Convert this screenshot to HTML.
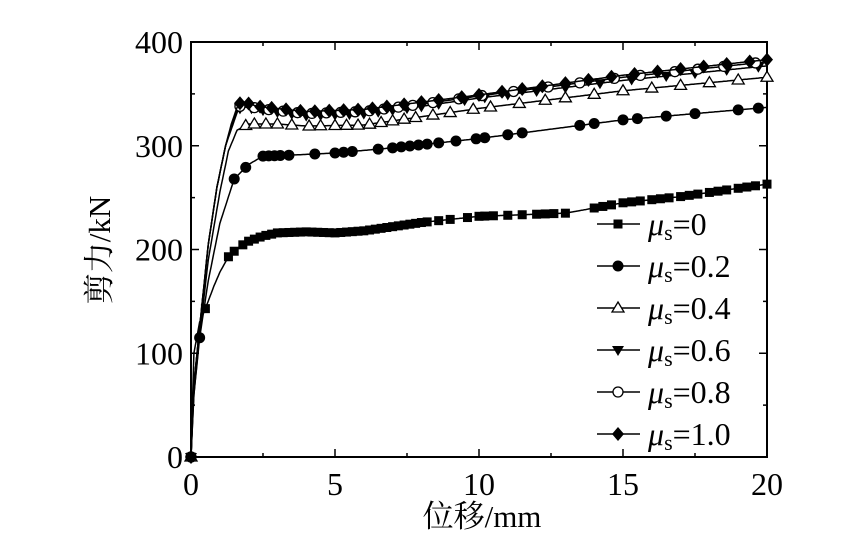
<!DOCTYPE html><html><head><meta charset="utf-8"><style>body{margin:0;background:#fff}svg{display:block}text{font-family:"Liberation Serif","Noto Serif CJK SC",serif;fill:#000}</style></head><body>
<svg id="s" width="866" height="539" xmlns="http://www.w3.org/2000/svg"></svg>
<script>
const s=document.getElementById('s');let h='';
const X=v=>191+v*28.8,Y=v=>457-v*1.0375;
h+='<rect x="191" y="42" width="576" height="415" fill="none" stroke="#000" stroke-width="2"/>';
for(let i=0;i<=8;i++){const v=i*2.5,x=X(v),l=i%2?4:8;h+=`<line x1="${x}" y1="457" x2="${x}" y2="${457-l}" stroke="#000" stroke-width="1.5"/><line x1="${x}" y1="42" x2="${x}" y2="${42+l}" stroke="#000" stroke-width="1.5"/>`;if(i%2==0)h+=`<text x="${x}" y="495" font-size="32" text-anchor="middle">${v}</text>`;}
for(let i=0;i<=8;i++){const v=i*50,y=Y(v),l=i%2?4:8;h+=`<line x1="191" y1="${y}" x2="${191+l}" y2="${y}" stroke="#000" stroke-width="1.5"/><line x1="767" y1="${y}" x2="${767-l}" y2="${y}" stroke="#000" stroke-width="1.5"/>`;if(i%2==0)h+=`<text x="183" y="${y+11}" font-size="32" text-anchor="end">${v}</text>`;}
h+='<text x="482" y="527" font-size="31" text-anchor="middle">位移/mm</text>';
h+='<text transform="translate(110,250) rotate(-90)" font-size="31" text-anchor="middle">剪力/kN</text>';
function interp(p,x){for(let i=1;i<p.length;i++)if(x<=p[i][0]){const a=p[i-1],b=p[i],t=(x-a[0])/(b[0]-a[0]);return a[1]+(b[1]-a[1])*t;}return p[p.length-1][1];}
const up=(pk)=>[[0,0],[0.1,70],[0.3,125],[0.6,205],[0.9,260],[1.2,300],[1.4,pk-22],[1.6,pk-6],[1.75,pk]];
const S=[
{m:'sq',p:[[0,0],[0.1,100],[0.3,130],[0.5,143],[0.8,165],[1,178],[1.3,193],[1.6,201],[2,208],[2.5,213],[3,216],[4,217],[5,216],[6,218],[7,222],[8,226],[10,232],[13,235],[15,245],[17,251],[20,263]],n:[0.5,1.3,1.5,1.8,2,2.2,2.4,2.6,2.8,3,3.2,3.4,3.6,3.8,4,4.2,4.4,4.6,4.8,5,5.2,5.4,5.6,5.8,6,6.2,6.4,6.6,6.8,7,7.2,7.4,7.6,7.8,8,8.2,8.6,9,9.6,10,10.2,10.5,11,11.5,12,12.3,12.6,13,14,14.3,14.6,15,15.3,15.6,16,16.3,16.6,17,17.3,17.6,18,18.3,18.6,19,19.3,19.6,20]},
{m:'ci',p:[[0,0],[0.1,60],[0.3,115],[0.6,170],[1,225],[1.5,268],[2,282],[2.5,290],[3.5,291],[5,293],[7,298],[10,307],[15,325],[20,337]],n:[0.3,1.5,1.9,2.5,2.7,2.9,3.1,3.4,4.3,5,5.3,5.6,6.5,7,7.3,7.6,7.9,8.2,8.6,9.2,9.9,10.2,11,11.5,13.5,14,15,15.5,16.5,17.5,19,19.7]},
{m:'tu',p:[[0,0],[0.1,60],[0.3,118],[0.6,190],[1,255],[1.3,295],[1.6,315],[2,321],[3,321],[4,319],[6,320],[8,328],[10,336],[15,353],[20,366]],n:[1.9,2.2,2.6,3.0,3.5,4.1,4.5,5,5.4,5.8,6.2,6.6,7,7.4,7.8,8.4,9,9.8,10.4,11.4,12.3,13,14,15,16,17,18,19,20]},
{m:'td',p:up(338).concat([[2.3,335],[4,329],[6,331],[8,338],[10,346],[15,363],[20,377]]),n:[1.7,2.1,2.5,3,3.5,4,4.5,5,5.5,6,6.5,7,7.5,8,8.6,9.5,10.2,11,12,13,14.2,15.3,16.5,17.5,18.6,19.7]},
{m:'co',p:up(340).concat([[2.3,336],[4,331],[6,333],[8,340],[10,348],[15,366],[20,381]]),n:[1.7,2.2,2.7,3.2,3.7,4.2,4.7,5.2,5.7,6.2,6.7,7.2,7.7,8.4,9.3,10.1,11.2,12.4,13.5,14.7,15.6,16.8,17.6,18.5,19.6]},
{m:'di',p:up(343).concat([[2.3,338],[4,333],[6,335],[8,342],[10,349],[15,368],[20,383]]),n:[1.7,2,2.4,2.8,3.3,3.8,4.3,4.8,5.3,5.8,6.3,6.8,7.4,8,8.6,9.4,10,10.8,11.5,12.2,13,13.8,14.6,15.4,16.2,17,17.8,18.6,19.4,20]}];
function mk(t,x,y){switch(t){case'sq':return`<rect x="${x-4.5}" y="${y-4.5}" width="9" height="9"/>`;case'ci':return`<circle cx="${x}" cy="${y}" r="5.5"/>`;case'tu':return`<path d="M${x},${y-6}L${x+6},${y+4}L${x-6},${y+4}Z" fill="#fff" stroke="#000" stroke-width="1.3"/>`;case'td':return`<path d="M${x},${y+6}L${x+6},${y-4}L${x-6},${y-4}Z"/>`;case'co':return`<circle cx="${x}" cy="${y}" r="5" fill="#fff" stroke="#000" stroke-width="1.3"/>`;case'di':return`<path d="M${x},${y-7}L${x+6},${y}L${x},${y+7}L${x-6},${y}Z"/>`;}}
for(const sr of S){let d='';for(let x=0;x<=20.001;x+=0.05){d+=(x?'L':'M')+X(x).toFixed(1)+','+Y(interp(sr.p,x)).toFixed(1);}h+=`<path d="${d}" fill="none" stroke="#000" stroke-width="1.5" stroke-linejoin="round"/>`;for(const x of sr.n)h+=mk(sr.m,X(x),Y(interp(sr.p,x)));h+=mk(sr.m,X(0),Y(0));}
const lab=['0','0.2','0.4','0.6','0.8','1.0'];
S.forEach((sr,i)=>{const y=224+42*i;h+=`<line x1="597" y1="${y}" x2="640" y2="${y}" stroke="#000" stroke-width="1.5"/>`+mk(sr.m,618,y)+`<text x="648" y="${y+11}" font-size="32"><tspan font-style="italic">μ</tspan><tspan font-size="22" dy="5">s</tspan><tspan dy="-5">=${lab[i]}</tspan></text>`;});
s.innerHTML=h;
</script></body></html>
